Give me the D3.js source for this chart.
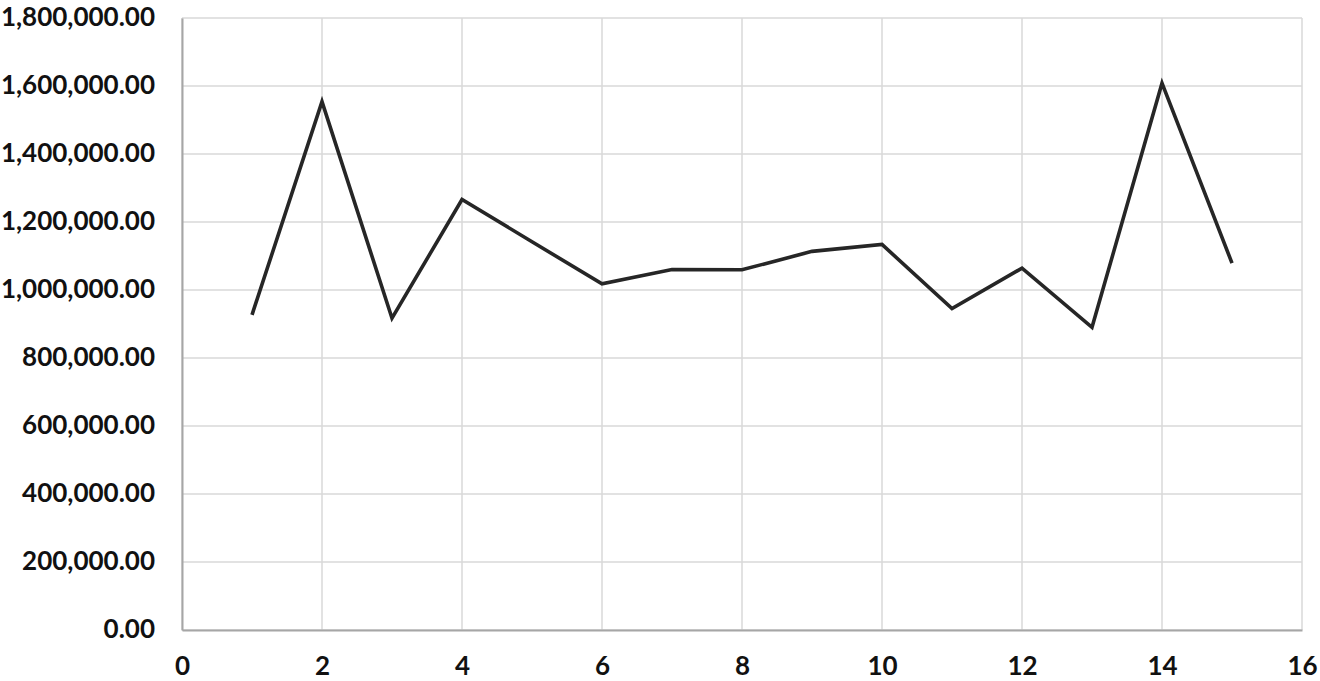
<!DOCTYPE html>
<meta charset="utf-8">
<style>
body { margin: 0; background: #fff; }
.tick text { font-family: Lato, "Open Sans", sans-serif; font-weight: bold; font-size: 26px; fill: #111; }
.grid line { stroke: #d9d9d9; stroke-width: 1.5px; }
</style>
<svg width="1320" height="681"></svg>
<script src="https://d3js.org/d3.v7.min.js"></script>
<script>

// x positions and values
var xs = [1, 2, 3, 4, 5, 6, 7, 8, 9, 10, 11, 12, 13, 14, 15];
var values = [927000, 1554000, 917000, 1266000, 1142000, 1018000, 1060000, 1059500,
              1113600, 1134000, 945400, 1064300, 890300, 1608300, 1079100];
var xTicks = [0, 2, 4, 6, 8, 10, 12, 14, 16];
var yTicks = [0, 200000, 400000, 600000, 800000, 1000000, 1200000, 1400000, 1600000, 1800000];

var svg = d3.select("svg"),
    margin = {top: 18, right: 18, bottom: 51, left: 182},
    width = +svg.attr("width") - margin.left - margin.right,
    height = +svg.attr("height") - margin.top - margin.bottom;

var x = d3.scaleLinear().domain([0, 16]).range([0, width]);
var y = d3.scaleLinear().domain([0, 1800000]).range([height, 0]);

var g = svg.append("g").attr("transform", "translate(" + margin.left + "," + margin.top + ")");

// gridlines
var grid = g.append("g").attr("class", "grid");
grid.selectAll(".h").data(yTicks).enter().append("line")
    .attr("x1", 0).attr("x2", width)
    .attr("y1", function(d) { return y(d); }).attr("y2", function(d) { return y(d); });
grid.selectAll(".v").data(xTicks).enter().append("line")
    .attr("y1", 0).attr("y2", height)
    .attr("x1", function(d) { return x(d); }).attr("x2", function(d) { return x(d); });

// axes
var fmt = d3.format(",.2f");
var yAxis = g.append("g")
    .call(d3.axisLeft(y).tickValues(yTicks).tickFormat(fmt).tickSize(0).tickPadding(27));
yAxis.select(".domain").attr("stroke", "#a6a6a6").attr("stroke-width", 2);
yAxis.selectAll(".tick text").attr("dy", "0.3em");

var xAxis = g.append("g")
    .attr("transform", "translate(0," + height + ")")
    .call(d3.axisBottom(x).tickValues(xTicks).tickFormat(d3.format("d")).tickSize(0).tickPadding(27));
xAxis.select(".domain").attr("stroke", "#a6a6a6").attr("stroke-width", 2);

// series line
var line = d3.line()
    .x(function(d, i) { return x(xs[i]); })
    .y(function(d) { return y(d); });

g.append("path")
    .datum(values)
    .attr("fill", "none")
    .attr("stroke", "#262626")
    .attr("stroke-width", 3.6)
    .attr("stroke-linejoin", "miter")
    .attr("d", line);

</script>
